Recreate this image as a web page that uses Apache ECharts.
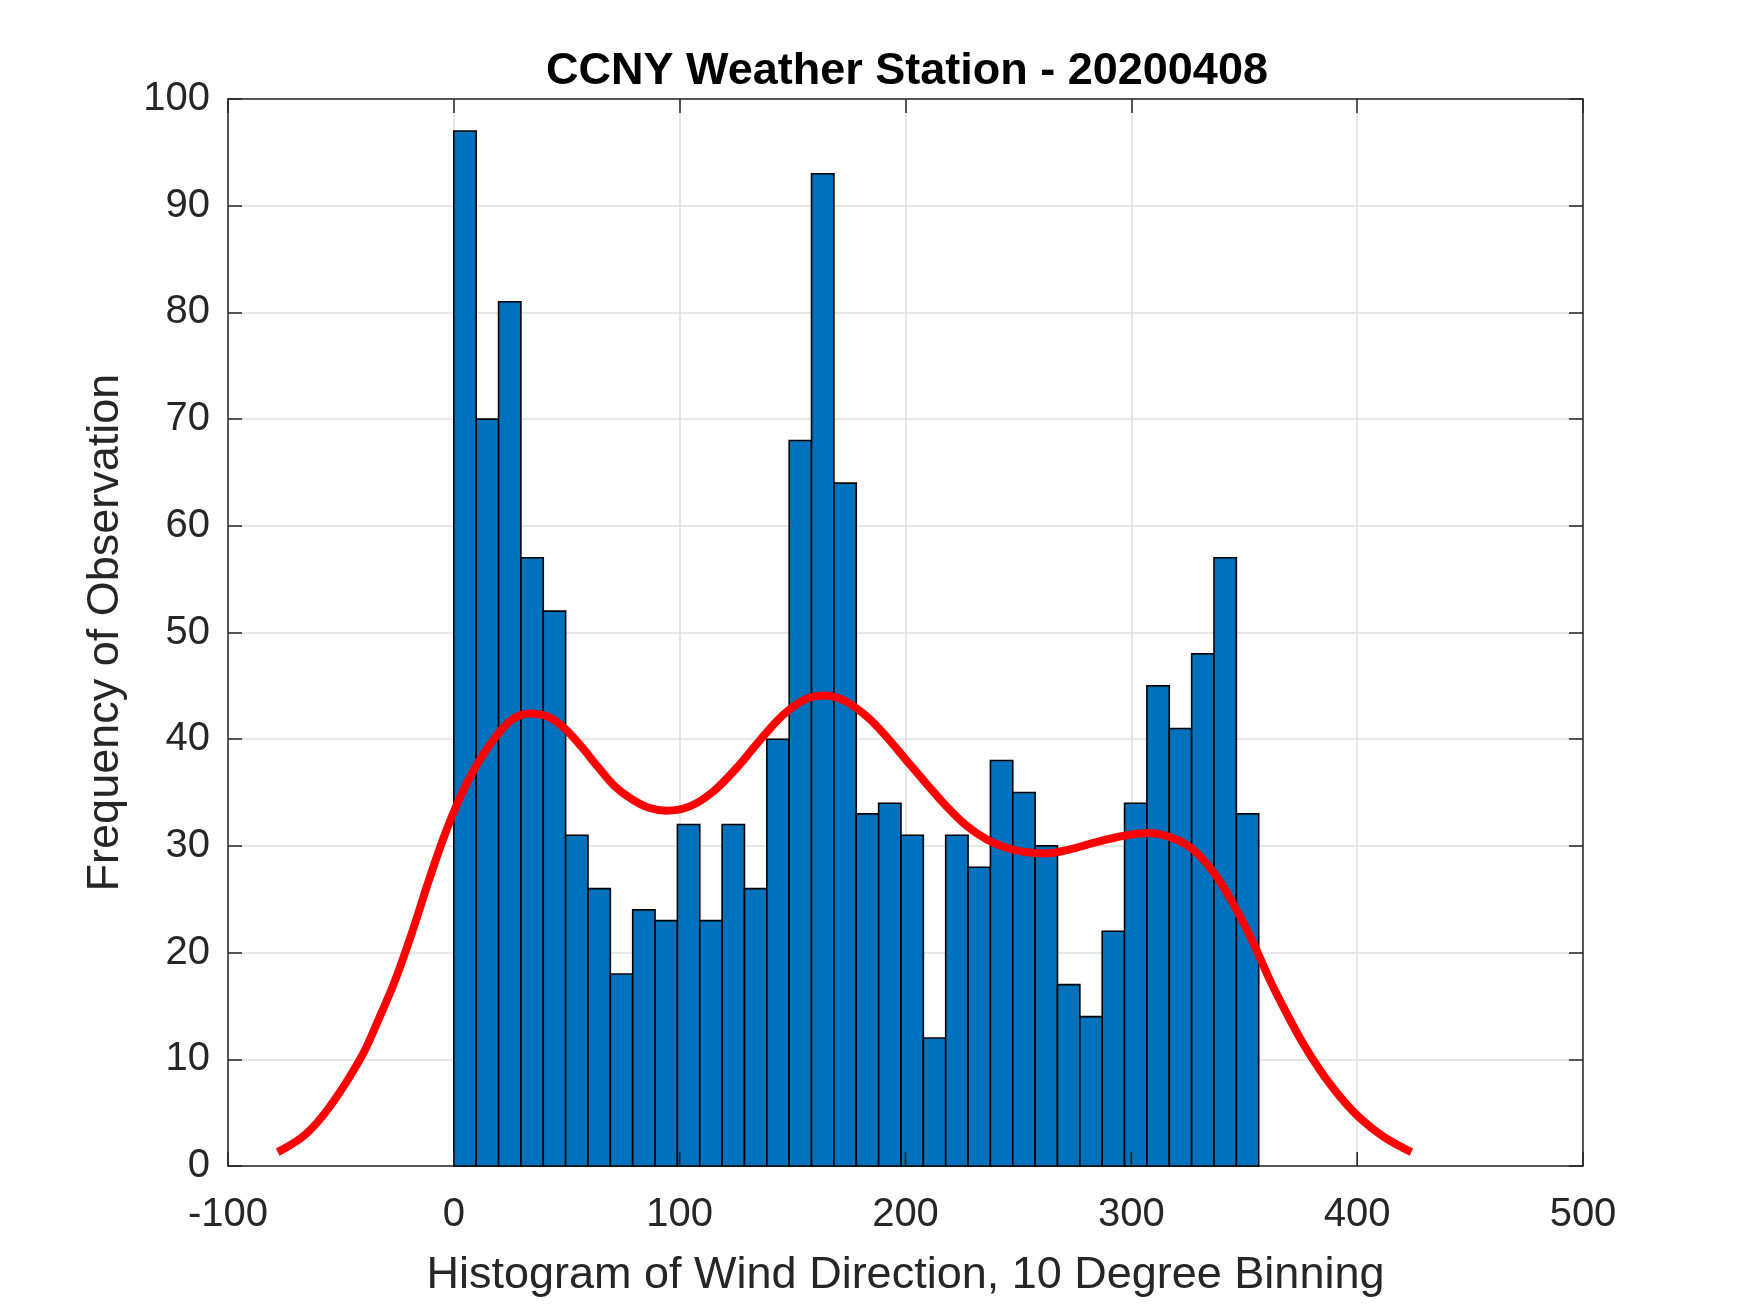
<!DOCTYPE html>
<html>
<head>
<meta charset="utf-8">
<script src="https://cdn.jsdelivr.net/npm/echarts@6/dist/echarts.min.js"></script>
<style>
html,body{margin:0;padding:0;background:#fff;}
#chart{width:1750px;height:1313px;}
</style>
</head>
<body>
<div id="chart"></div>
<script>
// Histogram bins (left edges, degrees) and counts
const binLeft = [0, 9.9, 19.8, 29.7, 39.6, 49.5, 59.4, 69.3, 79.2, 89.1, 99, 108.9,
  118.8, 128.7, 138.6, 148.5, 158.4, 168.3, 178.2, 188.1, 198, 207.9, 217.8, 227.7,
  237.6, 247.5, 257.4, 267.3, 277.2, 287.1, 297, 306.9, 316.8, 326.7, 336.6, 346.5];
const binWidth = 9.9;
const counts = [97, 70, 81, 57, 52, 31, 26, 18, 24, 23, 32, 23,
  32, 26, 40, 68, 93, 64, 33, 34, 31, 12, 31, 28,
  38, 35, 30, 17, 14, 22, 34, 45, 41, 48, 57, 33];

// Fitted density curve (x, frequency)
const fitCurve = [
  [-78, 1.3], [-66, 2.9], [-54.8, 5.6], [-41, 10.2], [-33.6, 13.6], [-26, 17.4],
  [-18.8, 21.7], [-11, 26.8], [-4.1, 31.0], [3.3, 34.8], [10.7, 37.8], [18.1, 40.1],
  [25.5, 41.8], [33.5, 42.4], [41.7, 42.1], [49.1, 41.0], [56.5, 39.3], [63.8, 37.4],
  [71.2, 35.6], [78.6, 34.4], [86, 33.6], [94.2, 33.3], [104.5, 33.7], [114.9, 35.1],
  [125.2, 37.3], [135.5, 39.9], [145.9, 42.3], [156.2, 43.8], [164.5, 44.1],
  [173, 43.6], [183, 42.1], [191.7, 40.2], [200.5, 38.0], [209.4, 35.8], [218.2, 33.7],
  [227, 31.9], [236, 30.6], [245, 29.8], [253.6, 29.4], [262.5, 29.3], [271.4, 29.6],
  [280.2, 30.1], [289, 30.6], [298, 31.0], [307.5, 31.2], [316, 30.9], [324.5, 30.1],
  [331, 28.9], [337.8, 27.1], [346.6, 24.0], [354, 20.9], [361.4, 17.4], [368.8, 14.3],
  [376, 11.5], [383.5, 9.0], [392.4, 6.5], [401.2, 4.5], [411.6, 2.75], [424, 1.3]
];

// Tick values of the x axis
const xTicks = [-100, 0, 100, 200, 300, 400, 500];

const titleText = 'CCNY Weather Station - 20200408';
const xLabel = 'Histogram of Wind Direction, 10 Degree Binning';
const yLabel = 'Frequency of Observation';

const FONT = '"Liberation Sans", Arial, Helvetica, sans-serif';
const AX = '#262626';

const barData = binLeft.map((l, i) => [l, l + binWidth, counts[i]]);

const tickStyle = {show: true, inside: true, length: 14, lineStyle: {color: AX, width: 1.5}};

const chart = echarts.init(document.getElementById('chart'), null, {renderer: 'canvas'});
const option = {
  backgroundColor: '#ffffff',
  animation: false,
  title: {
    text: titleText,
    left: 541,
    top: 44,
    textStyle: {fontFamily: FONT, fontSize: 45, fontWeight: 'bold', color: '#000'}
  },
  grid: {left: 228, right: 167, top: 99, bottom: 147, containLabel: false},
  xAxis: [
    {
      type: 'value', position: 'bottom', min: -100, max: 500, interval: 100,
      name: xLabel, nameLocation: 'middle', nameGap: 87,
      nameTextStyle: {fontFamily: FONT, fontSize: 45, color: AX},
      axisLine: {show: true, onZero: false, lineStyle: {color: AX, width: 1.5}},
      axisTick: {show: false},
      axisLabel: {show: true, margin: 29, fontFamily: FONT, fontSize: 40, color: AX},
      splitLine: {show: false}
    },
    {
      type: 'value', position: 'top', min: -100, max: 500, interval: 100,
      axisLine: {show: true, onZero: false, lineStyle: {color: AX, width: 1.5}},
      axisTick: tickStyle,
      axisLabel: {show: false},
      splitLine: {show: true, lineStyle: {color: '#dfdfdf', width: 1.5}}
    }
  ],
  yAxis: [
    {
      type: 'value', position: 'left', min: 0, max: 100, interval: 10,
      name: yLabel, nameLocation: 'middle', nameGap: 100,
      nameTextStyle: {fontFamily: FONT, fontSize: 45, color: AX},
      axisLine: {show: true, onZero: false, lineStyle: {color: AX, width: 1.5}},
      axisTick: tickStyle,
      axisLabel: {show: true, margin: 18, fontFamily: FONT, fontSize: 40, color: AX},
      splitLine: {show: true, lineStyle: {color: '#dfdfdf', width: 1.5}}
    },
    {
      type: 'value', position: 'right', min: 0, max: 100, interval: 10,
      axisLine: {show: true, onZero: false, lineStyle: {color: AX, width: 1.5}},
      axisTick: tickStyle,
      axisLabel: {show: false}, splitLine: {show: false}
    }
  ],
  series: [
    {
      type: 'custom',
      name: 'Wind direction histogram',
      xAxisIndex: 0, yAxisIndex: 0,
      data: barData,
      encode: {x: [0, 1], y: 2},
      renderItem: function (params, api) {
        const p0 = api.coord([api.value(0), 0]);
        const p1 = api.coord([api.value(1), api.value(2)]);
        return {
          type: 'rect',
          shape: {x: p0[0], y: p1[1], width: p1[0] - p0[0], height: p0[1] - p1[1]},
          style: {fill: '#0072BD', stroke: '#000000', lineWidth: 1.6}
        };
      },
      z: 2
    },
    {
      type: 'line',
      name: 'Fit',
      xAxisIndex: 0, yAxisIndex: 0,
      data: fitCurve,
      smooth: 0.35,
      showSymbol: false,
      symbol: 'none',
      lineStyle: {color: '#FF0000', width: 8, cap: 'butt'},
      z: 5
    },
    {
      // inward tick marks on the bottom edge, placed through the x scale
      type: 'custom',
      name: 'x ticks',
      xAxisIndex: 0, yAxisIndex: 0,
      silent: true,
      clip: false,
      data: xTicks.map(v => [v, 0]),
      encode: {x: 0, y: 1},
      renderItem: function (params, api) {
        const p = api.coord([api.value(0), api.value(1)]);
        return {
          type: 'rect',
          shape: {x: p[0] - 0.8, y: p[1] - 14, width: 1.6, height: 14},
          style: {fill: AX}
        };
      },
      z: 8
    }
  ]
};
chart.setOption(option);
</script>
</body>
</html>
